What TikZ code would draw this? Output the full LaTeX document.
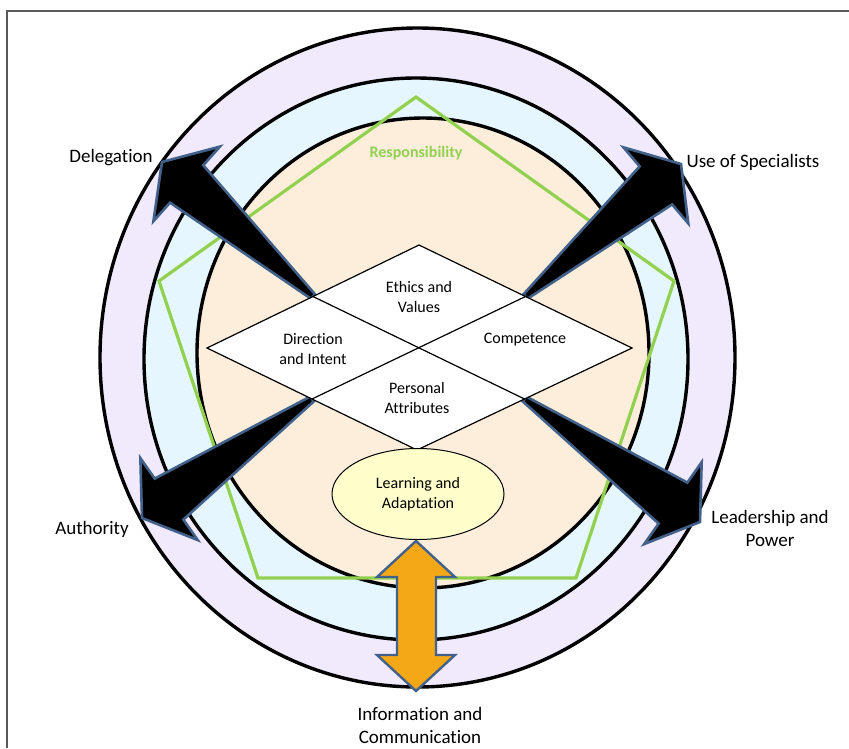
\documentclass[tikz,border=0pt]{standalone}
\usepackage{fontspec}
\setmainfont{Carlito}[Ligatures=NoCommon]
\usetikzlibrary{calc}
\definecolor{ringA}{HTML}{F1EAFD}
\definecolor{ringB}{HTML}{E5F6FE}
\definecolor{ringC}{HTML}{FDEEDC}
\definecolor{pent}{HTML}{92D050}
\definecolor{blueedge}{HTML}{41618A}
\definecolor{orangefill}{HTML}{F4A815}
\definecolor{ellfill}{HTML}{FFFFCC}
\definecolor{framegray}{HTML}{595959}
\tikzset{
  ring/.style={draw=black, line width=3.4pt},
  blade/.style={fill=black, draw=blueedge, line width=2.6pt},
  outerlabel/.style={font=\fontsize{19}{23}\selectfont, align=center, inner sep=0pt},
  innerlabel/.style={font=\fontsize{16}{20}\selectfont, align=center, inner sep=0pt},
  diamondline/.style={draw=black, line width=1.2pt},
}
\newcommand{\bladearrow}[2]{%
  \coordinate (#1b) at ($(#2)!33pt!(#1)$);
  \draw[blade] ($(#1)!3pt!90:(#2)$) -- ($(#1b)!25pt!90:(#2)$) -- ($(#1b)!50pt!90:(#2)$)
    -- (#2) -- ($(#1b)!50pt!-90:(#2)$) -- ($(#1b)!25pt!-90:(#2)$) -- ($(#1)!3pt!-90:(#2)$) -- cycle;
}
\begin{document}
\begin{tikzpicture}[x=1pt, y=-1pt]
\useasboundingbox (0,0) rectangle (849,748);
\fill[white] (0,0) rectangle (849,748);
% frame
\draw[framegray, line width=1.5pt] (7,748) -- (7,11) -- (849,11);
% rings
\path[ring, fill=ringA] (417.5,357.5) ellipse [x radius=317.5, y radius=329.5];
\path[ring, fill=ringB] (416,359) ellipse [x radius=272, y radius=281];
\path[ring, fill=ringC] (423,353) ellipse [x radius=226, y radius=235];
% pentagon
\coordinate (p1) at (416,97);
\coordinate (p2) at (674,281);
\coordinate (p3) at (576,578);
\coordinate (p4) at (258,578);
\coordinate (p5) at (159,281);
\draw[pent, line width=3.2pt] (p1) -- (p2) -- (p3) -- (p4) -- (p5) -- cycle;
% diamond coordinates
\coordinate (dT) at (419,245);
\coordinate (dR) at (632,348);
\coordinate (dB) at (417,450);
\coordinate (dL) at (207,348);
\coordinate (mTL) at ($(dT)!0.5!(dL)$);
\coordinate (mTR) at ($(dT)!0.5!(dR)$);
\coordinate (mBR) at ($(dB)!0.5!(dR)$);
\coordinate (mBL) at ($(dB)!0.5!(dL)$);
% black arrows
\coordinate (tipDel) at (162,162);
\coordinate (tipUse) at (681,164);
\coordinate (tipAut) at (142,518);
\coordinate (tipLea) at (700,522);
\bladearrow{mTL}{tipDel}
\bladearrow{mTR}{tipUse}
\bladearrow{mBL}{tipAut}
\bladearrow{mBR}{tipLea}
% diamond
\draw[diamondline, fill=white] (dT) -- (dR) -- (dB) -- (dL) -- cycle;
\draw[diamondline] (mTL) -- (mBR);
\draw[diamondline] (mTR) -- (mBL);
% learning ellipse
\path[draw=black, line width=1pt, fill=ellfill] (418,494) ellipse [x radius=86, y radius=45.5];
% orange double arrow
\draw[fill=orangefill, draw=blueedge, line width=2.4pt]
  (416,541) -- (455,577) -- (436,577) -- (436,655) -- (455,655) -- (416,691)
  -- (377,655) -- (397,655) -- (397,577) -- (377,577) -- cycle;
% texts
\node[innerlabel] (ethics) at (419,297) {Ethics and\\Values};
\node[innerlabel] (direction) at (313,349) {Direction\\and Intent};
\node[innerlabel] (competence) at (525,340) {Competence};
\node[innerlabel] (personal) at (417,398) {Personal\\Attributes};
\node[innerlabel] (learning) at (418,494) {Learning and\\Adaptation};
\node[innerlabel, text=pent, font=\fontsize{16}{20}\selectfont\bfseries] (resp) at (416,153) {Responsibility};
\node[outerlabel] (delegation) at (111,158) {Delegation};
\node[outerlabel] (specialists) at (753,162) {Use of Specialists};
\node[outerlabel] (authority) at (92,529) {Authority};
\node[outerlabel] (leadership) at (770,528) {Leadership and\\Power};
\node[outerlabel] (information) at (420,725) {Information and\\Communication};
\end{tikzpicture}
\end{document}
